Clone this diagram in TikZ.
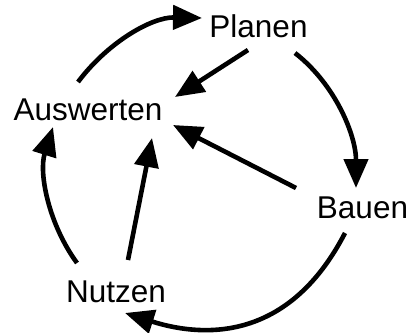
\documentclass[tikz,border=0pt]{standalone}
\usepackage{fontspec}
\setmainfont{Liberation Sans}
\usetikzlibrary{arrows.meta}
\begin{document}
\begin{tikzpicture}[x=1pt, y=-1pt,
  lbl/.style={inner sep=0pt, anchor=base, font=\fontsize{31.5}{36}\selectfont},
  arr/.style={line width=4.6pt, -{Triangle[length=29pt, width=24pt]}}]
\useasboundingbox (0,0) rectangle (409,332);

% the four phases of the cycle
\node[lbl] (P) at (258.5,37)  {Planen};
\node[lbl] (A) at (88,120)    {Auswerten};
\node[lbl] (B) at (362.5,218) {Bauen};
\node[lbl] (N) at (116,302)   {Nutzen};

% outer cycle: Auswerten -> Planen -> Bauen -> Nutzen -> Auswerten
\draw[arr] ([shift={(-10,-38)}]A.base) .. controls +(30,-40) and +(-50,-1) .. ([shift={(-56.5,-19)}]P.base);
\draw[arr] ([shift={(36.5,16)}]P.base) .. controls +(41,32) and +(0,-52) .. ([shift={(-6.5,-30)}]B.base);
\draw[arr] ([shift={(-17.5,15)}]B.base) .. controls +(-53.6,103.7) and +(85.6,27) .. ([shift={(9,11)}]N.base);
\draw[arr] ([shift={(-39,-39)}]N.base) .. controls +(-28.5,-39) and +(-14.4,46) .. ([shift={(-35,7)}]A.base);

% every phase feeds back into Auswerten
\draw[arr] ([shift={(-10.5,13)}]P.base) -- ([shift={(87,-23)}]A.base);
\draw[arr] ([shift={(-66.5,-30)}]B.base) -- ([shift={(85,5)}]A.base);
\draw[arr] ([shift={(12,-42)}]N.base) -- ([shift={(64,18)}]A.base);
\end{tikzpicture}
\end{document}
